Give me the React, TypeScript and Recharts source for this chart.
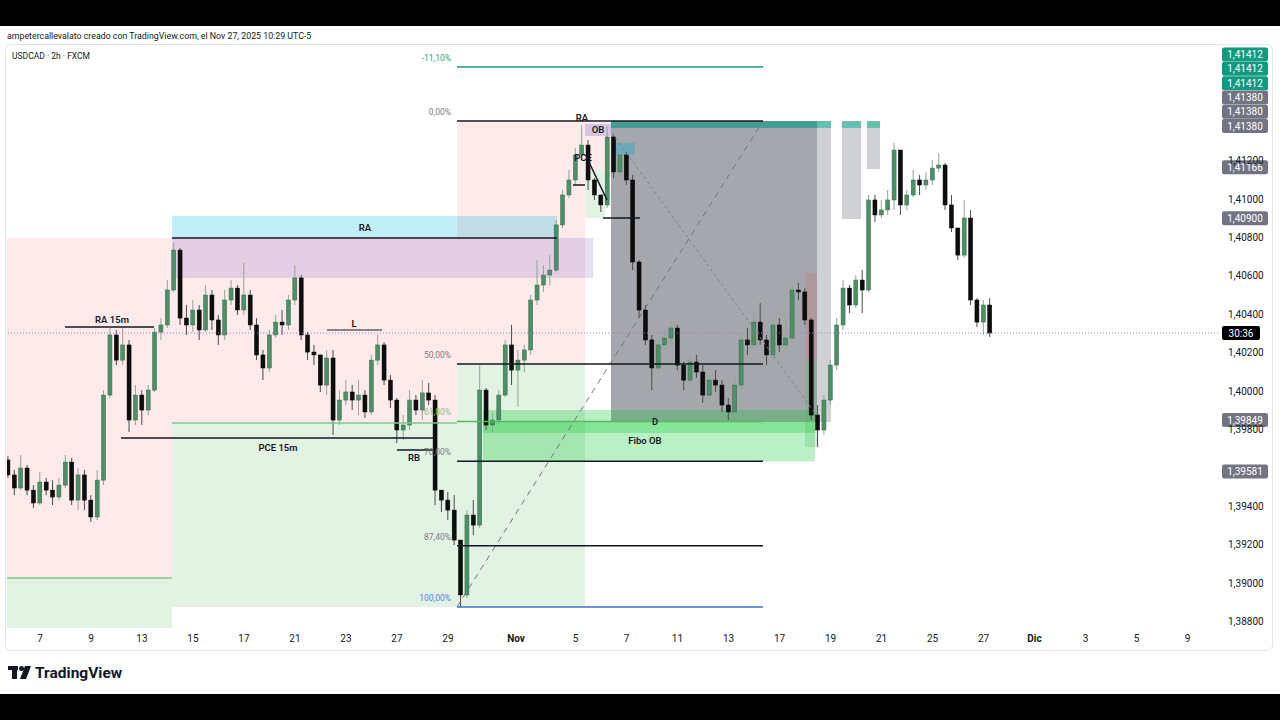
import React from 'react';
import {
  ComposedChart,
  Bar,
  XAxis,
  YAxis,
  ReferenceArea,
  ReferenceLine,
  ReferenceDot,
} from 'recharts';

const FONT = 'Roboto, "Liberation Sans", Arial, sans-serif';
const INK = '#131722';

// chart box (page coords: left 6, top 45)
const CHART_W = 1266;
const CHART_H = 605;
const AXIS_W = 54;
const AXIS_H = 22;
const X_DOMAIN: [number, number] = [-1.294, 46.196]; // trading days from Oct 7
const Y_DOMAIN: [number, number] = [1.38766, 1.41802];

// USDCAD 2h, resampled to 4 bars per trading day
const firstBarDay = -1.25;
const barStep = 0.25;
const firstOpen = 1.39641;

const closes = [
  1.39563, 1.39495, 1.39599, 1.39484, 1.39417, 1.39526, 1.39484, 1.39448, 1.3951, 1.3963,
  1.39432, 1.39563, 1.39432, 1.39344, 1.39536, 1.39979, 1.40292, 1.40161, 1.4024, 1.39849,
  1.39979, 1.39901, 1.40005, 1.40307, 1.40344, 1.40526, 1.40734, 1.4038, 1.40344, 1.40422,
  1.40318, 1.405, 1.4037, 1.40292, 1.40474, 1.40536, 1.40422, 1.405, 1.40344, 1.40188,
  1.4012, 1.40292, 1.40359, 1.40344, 1.40474, 1.40589, 1.40292, 1.40203, 1.40188, 1.40031,
  1.40172, 1.39849, 1.39953, 1.39995, 1.39953, 1.39979, 1.39891, 1.40161, 1.4024, 1.40057,
  1.39953, 1.39797, 1.39823, 1.39953, 1.39901, 1.3999, 1.39953, 1.39484, 1.39432, 1.3938,
  1.39224, 1.38938, 1.39354, 1.39302, 1.40005, 1.39823, 1.39849, 1.39979, 1.4024, 1.40109,
  1.40161, 1.40214, 1.40474, 1.40552, 1.40604, 1.4063, 1.40865, 1.41021, 1.41099, 1.41229,
  1.41281, 1.41099, 1.41021, 1.40969, 1.41323, 1.41141, 1.41229, 1.41099, 1.40672, 1.40422,
  1.40266, 1.4012, 1.4024, 1.40276, 1.40328, 1.40135, 1.40057, 1.40151, 1.40099, 1.39979,
  1.40057, 1.40031, 1.39927, 1.39891, 1.40031, 1.40266, 1.4024, 1.40359, 1.40266, 1.40188,
  1.40344, 1.4024, 1.40276, 1.40526, 1.40516, 1.4037, 1.39875, 1.39797, 1.39953, 1.40135,
  1.40344, 1.40536, 1.40448, 1.40578, 1.40526, 1.40995, 1.40917, 1.40943, 1.40995, 1.41255,
  1.40969, 1.41021, 1.41099, 1.41073, 1.41099, 1.41161, 1.41177, 1.40969, 1.40849, 1.40708,
  1.40901, 1.40474, 1.40359, 1.40448, 1.40302,
];

const highs = [
  1.39661, 1.39589, 1.39667, 1.39615, 1.3951, 1.39578, 1.39547, 1.39536, 1.39547, 1.39667,
  1.39651, 1.39599, 1.39589, 1.39458, 1.39589, 1.40005, 1.40328, 1.40318, 1.40328, 1.40266,
  1.40031, 1.40005, 1.40031, 1.40328, 1.4038, 1.40578, 1.40771, 1.40745, 1.40448, 1.40474,
  1.40448, 1.40552, 1.40526, 1.40396, 1.40526, 1.40578, 1.40552, 1.40667, 1.40526, 1.4038,
  1.40214, 1.40318, 1.40396, 1.40422, 1.405, 1.40656, 1.40604, 1.40307, 1.4024, 1.40188,
  1.40214, 1.40214, 1.40005, 1.40057, 1.40031, 1.40057, 1.40005, 1.40188, 1.40292, 1.40255,
  1.40083, 1.39964, 1.39875, 1.40005, 1.39979, 1.40057, 1.40042, 1.39979, 1.39484, 1.39474,
  1.39458, 1.39224, 1.3938, 1.39432, 1.40135, 1.40016, 1.39891, 1.40005, 1.40266, 1.40344,
  1.40214, 1.4024, 1.405, 1.40682, 1.40656, 1.40708, 1.40891, 1.41047, 1.41151, 1.41266,
  1.41385, 1.41307, 1.41109, 1.41021, 1.41375, 1.41333, 1.41255, 1.41245, 1.41125, 1.40682,
  1.40448, 1.40292, 1.40266, 1.40318, 1.4037, 1.40344, 1.40151, 1.40188, 1.40188, 1.40135,
  1.40083, 1.40109, 1.40057, 1.39964, 1.40068, 1.40292, 1.40328, 1.40396, 1.40458, 1.40292,
  1.4037, 1.4038, 1.40396, 1.40552, 1.40563, 1.40536, 1.4038, 1.39927, 1.39979, 1.40161,
  1.4038, 1.40578, 1.40552, 1.40604, 1.4063, 1.41021, 1.41021, 1.40995, 1.41047, 1.41292,
  1.41255, 1.41047, 1.41151, 1.41125, 1.41141, 1.41203, 1.4124, 1.41188, 1.41021, 1.40849,
  1.40995, 1.40943, 1.40484, 1.40474, 1.40484,
];

const lows = [
  1.39547, 1.39458, 1.39484, 1.39458, 1.39391, 1.39406, 1.39458, 1.39406, 1.39432, 1.39495,
  1.39406, 1.3938, 1.3938, 1.39318, 1.39328, 1.3951, 1.39964, 1.40135, 1.40135, 1.39786,
  1.39823, 1.39823, 1.39875, 1.39995, 1.40266, 1.40328, 1.40516, 1.40344, 1.40292, 1.40307,
  1.40266, 1.40307, 1.40318, 1.4024, 1.40266, 1.40448, 1.40396, 1.40396, 1.40318, 1.40161,
  1.40057, 1.40099, 1.40276, 1.40292, 1.40318, 1.40448, 1.40266, 1.40161, 1.40135, 1.39995,
  1.39979, 1.39771, 1.39823, 1.39927, 1.39901, 1.39875, 1.39859, 1.39875, 1.40135, 1.40031,
  1.39911, 1.39729, 1.39745, 1.39797, 1.39875, 1.39849, 1.39927, 1.39406, 1.3937, 1.39328,
  1.39198, 1.38875, 1.38922, 1.3925, 1.39286, 1.39797, 1.39786, 1.39823, 1.39969, 1.40031,
  1.39917, 1.40099, 1.40188, 1.40448, 1.40516, 1.40552, 1.4062, 1.40849, 1.41005, 1.41073,
  1.41203, 1.41047, 1.40995, 1.40932, 1.40953, 1.41109, 1.41109, 1.41073, 1.4063, 1.4038,
  1.4024, 1.40005, 1.40099, 1.40214, 1.4024, 1.40109, 1.40005, 1.40031, 1.40068, 1.39938,
  1.39953, 1.39995, 1.39891, 1.39849, 1.39859, 1.40005, 1.40188, 1.40214, 1.4024, 1.40135,
  1.40161, 1.40203, 1.40214, 1.40255, 1.40474, 1.40344, 1.39849, 1.39708, 1.39771, 1.39927,
  1.40109, 1.40318, 1.40406, 1.40432, 1.40406, 1.40516, 1.4088, 1.40901, 1.40917, 1.40943,
  1.40917, 1.40943, 1.4101, 1.41021, 1.41047, 1.41073, 1.41141, 1.40943, 1.40828, 1.40682,
  1.40693, 1.40448, 1.40333, 1.40292, 1.40281,
];

const dayTicks = [0, 2, 4, 6, 8, 10, 12, 14, 16, 18.67, 21, 23, 25, 27, 29, 31, 33, 35, 37, 39, 41, 43, 45];
const dayLabels = ['7', '9', '13', '15', '17', '21', '23', '27', '29', 'Nov', '5', '7', '11', '13', '17', '19', '21', '25', '27', 'Dic', '3', '5', '9'];
const priceTicks = [1.388, 1.39, 1.392, 1.394, 1.398, 1.4, 1.402, 1.404, 1.406, 1.408, 1.41, 1.412];

// fib retracement
const fibHigh = 1.41406;
const fibLow = 1.38875;
const fibStart = 16.353;
const fibEnd = 28.353;
const fibLevels = [-0.111, 0, 0.5, 0.618, 0.7, 0.874, 1];
const fibTexts = ['-11,10%', '0,00%', '50,00%', '61,80%', '70,00%', '87,40%', '100,00%'];
const fibLineColors = ['#1f9a82', '#131722', '#131722', '#5cb85f', '#131722', '#131722', '#3d6fd1'];
const fibTextColors = ['#2a9d8b', '#787b86', '#787b86', '#8cc48e', '#787b86', '#787b86', '#4f86e8'];

// price scale tags
const tagPrices = [1.41412, 1.41412, 1.41412, 1.4138, 1.4138, 1.4138, 1.41166, 1.409, 1.39849, 1.39581];
const tagColors = ['#119a7e', '#119a7e', '#119a7e', '#727581', '#727581', '#727581', '#727581', '#727581', '#727581', '#727581'];
const lastPrice = 1.40302;
const countdown = '30:36';

// drawings: [t1, t2, price1, price2, fill]
const PINK = 'rgba(242,54,69,0.11)';
const GREEN = 'rgba(76,175,80,0.16)';
const zones: [number, number, number, number, string][] = [
  [-1.294, 5.176, 1.40797, 1.39026, PINK],
  [-1.294, 5.176, 1.39026, 1.38766, GREEN],
  [5.176, 16.353, 1.40797, 1.39833, PINK],
  [5.176, 16.353, 1.39833, 1.38875, GREEN],
  [16.353, 21.373, 1.41406, 1.40141, PINK],
  [16.353, 21.373, 1.40141, 1.38875, GREEN],
  [5.176, 20.275, 1.40911, 1.40797, 'rgba(0,188,212,0.24)'],
  [5.176, 21.686, 1.40797, 1.40589, 'rgba(149,117,205,0.24)'],
  [21.373, 22.392, 1.41406, 1.41151, PINK],
  [21.373, 22.157, 1.41151, 1.40901, GREEN],
  [22.392, 30.471, 1.41406, 1.39839, 'rgba(78,80,90,0.5)'],
  [30.471, 31.02, 1.4137, 1.39839, 'rgba(110,112,122,0.32)'],
  [31.451, 32.196, 1.4137, 1.40896, 'rgba(110,112,122,0.32)'],
  [32.431, 32.941, 1.4137, 1.41156, 'rgba(110,112,122,0.32)'],
  [22.392, 31.02, 1.41406, 1.4137, 'rgba(8,153,129,0.62)'],
  [31.451, 32.196, 1.41406, 1.4137, 'rgba(8,153,129,0.62)'],
  [32.431, 32.941, 1.41406, 1.4137, 'rgba(8,153,129,0.62)'],
  [22.431, 23.333, 1.41292, 1.41229, 'rgba(0,175,215,0.35)'],
  [21.373, 22.392, 1.41391, 1.41328, 'rgba(170,150,215,0.45)'],
  [30.0, 30.471, 1.40615, 1.40161, 'rgba(242,54,69,0.14)'],
  [30.0, 30.471, 1.40161, 1.39708, 'rgba(76,175,80,0.22)'],
  [17.373, 30.392, 1.39901, 1.39781, 'rgba(0,200,40,0.27)'],
  [17.373, 30.392, 1.39839, 1.39635, 'rgba(0,200,40,0.27)'],
];

// horizontal lines: [t1, t2, price, color]
const levels: [number, number, number, string][] = [
  [0.98, 4.471, 1.40333, INK],
  [3.176, 15.49, 1.39755, INK],
  [11.255, 13.412, 1.40318, '#5d606b'],
  [14.0, 15.49, 1.39693, INK],
  [5.176, 20.275, 1.40797, INK],
  [20.902, 21.373, 1.41073, INK],
  [22.078, 23.529, 1.40901, INK],
  [-1.294, 5.176, 1.39026, '#7cc98a'],
  [5.176, 16.353, 1.39833, '#7cc98a'],
];

// text notes: [t, price, text]
const notes: [number, number, string][] = [
  [2.824, 1.40375, 'RA 15m'],
  [9.333, 1.39708, 'PCE 15m'],
  [12.314, 1.40354, 'L'],
  [14.667, 1.39656, 'RB'],
  [12.745, 1.40852, 'RA'],
  [21.255, 1.41427, 'RA'],
  [21.882, 1.41362, 'OB'],
  [21.294, 1.41214, 'PCE'],
  [24.118, 1.39839, 'D'],
  [23.725, 1.3974, 'Fibo OB'],
];

const candles = closes.map((close, i) => ({
  t: firstBarDay + i * barStep,
  open: i === 0 ? firstOpen : closes[i - 1],
  close,
  high: highs[i],
  low: lows[i],
  range: [lows[i], highs[i]],
}));

// push overlapping tags upward like the price scale does
const PLOT_H = CHART_H - AXIS_H;
const pxPerPrice = PLOT_H / (Y_DOMAIN[1] - Y_DOMAIN[0]);
const TAG_H = 14.3;
const tagShifts = (() => {
  const order = tagPrices.map((_, i) => i).sort((a, b) => tagPrices[a] - tagPrices[b] || b - a);
  const shifts = tagPrices.map(() => 0);
  let prevY = Infinity;
  for (const i of order) {
    const own = (Y_DOMAIN[1] - tagPrices[i]) * pxPerPrice;
    const y = Math.min(own, prevY - TAG_H);
    shifts[i] = y - own;
    prevY = y;
  }
  return shifts;
})();

function Candle(props: any) {
  const { x, y, width, height, payload } = props;
  if (!payload) return null;
  const top = Math.min(y, y + height);
  const h = Math.abs(height);
  const span = payload.high - payload.low || 1e-9;
  const py = (p: number) => top + ((payload.high - p) / span) * h;
  const up = payload.close >= payload.open;
  const cx = x + width / 2;
  const b1 = py(Math.max(payload.open, payload.close));
  const b2 = py(Math.min(payload.open, payload.close));
  return (
    <g>
      <line x1={cx} x2={cx} y1={top} y2={top + h} stroke={up ? '#8fa597' : '#4a4a4a'} strokeWidth={1} />
      <rect
        x={x}
        y={b1}
        width={width}
        height={Math.max(1, b2 - b1)}
        fill={up ? '#4d9068' : '#0d0d0d'}
        stroke={up ? '#2f6b48' : '#000'}
        strokeWidth={0.5}
      />
    </g>
  );
}

const DayTick = (props: any) => {
  const { x, y, payload } = props;
  const idx = dayTicks.indexOf(payload.value);
  const label = idx >= 0 ? dayLabels[idx] : '';
  const month = label === 'Nov' || label === 'Dic';
  return (
    <text x={x} y={y} dy={14} textAnchor="middle" fontSize={10} fontWeight={month ? 700 : 400} fill={INK} fontFamily={FONT}>
      {label}
    </text>
  );
};

const PriceTick = (props: any) => {
  const { x, y, payload } = props;
  return (
    <text x={x + 10} y={y} dy={3.5} textAnchor="start" fontSize={10} fill={INK} fontFamily={FONT}>
      {payload.value.toFixed(5).replace('.', ',')}
    </text>
  );
};

const noteLabel = (text: string) => (p: any) => {
  const vb = p.viewBox || {};
  const cx = vb.x + (vb.width || 0) / 2;
  const cy = vb.y + (vb.height || 0) / 2;
  return (
    <text x={cx} y={cy} dy={3.5} textAnchor="middle" fontSize={9.5} fontWeight={600} fill={INK} fontFamily={FONT}>
      {text}
    </text>
  );
};

const fibLabel = (text: string, color: string) => (p: any) => {
  const vb = p.viewBox || {};
  return (
    <text x={vb.x - 6} y={vb.y - 6} textAnchor="end" fontSize={8.5} fill={color} fontFamily={FONT}>
      {text}
    </text>
  );
};

const tagLabel = (text: string, bg: string, shift: number, w = 46) => (p: any) => {
  const vb = p.viewBox || {};
  const left = vb.x + (vb.width || 0) + 4;
  const cy = vb.y + shift;
  return (
    <g>
      <rect x={left} y={cy - 7} width={w} height={14} rx={2} fill={bg} />
      <text x={left + w / 2} y={cy} dy={3.5} textAnchor="middle" fontSize={10} fill="#fff" fontFamily={FONT}>
        {text}
      </text>
    </g>
  );
};

export default function App() {
  return (
    <div style={{ position: 'absolute', left: 0, top: 0, width: 1280, height: 720, background: '#fff', fontFamily: FONT, overflow: 'hidden' }}>
      <div style={{ position: 'absolute', left: 0, top: 0, width: 1280, height: 26, background: '#000' }} />
      <div style={{ position: 'absolute', left: 0, top: 694, width: 1280, height: 26, background: '#000' }} />
      <div style={{ position: 'absolute', left: 7, top: 31, fontSize: 8.8, color: INK, whiteSpace: 'nowrap' }}>
        ampetercallevalato creado con TradingView.com, el Nov 27, 2025 10:29 UTC-5
      </div>
      <div style={{ position: 'absolute', left: 5, top: 44, width: 1266, height: 605, border: '1px solid #e3e5ea', borderRadius: 6 }} />

      <div style={{ position: 'absolute', left: 6, top: 45 }}>
        <ComposedChart width={CHART_W} height={CHART_H} data={candles} margin={{ top: 0, right: 0, left: 1, bottom: 0 }}>
          <XAxis
            dataKey="t"
            type="number"
            domain={X_DOMAIN}
            allowDataOverflow
            ticks={dayTicks}
            interval={0}
            tick={<DayTick />}
            tickLine={false}
            tickSize={0}
            tickMargin={0}
            axisLine={false}
            height={AXIS_H}
          />
          <YAxis
            type="number"
            orientation="right"
            domain={Y_DOMAIN}
            allowDataOverflow
            ticks={priceTicks}
            interval={0}
            tick={<PriceTick />}
            tickLine={false}
            tickSize={0}
            tickMargin={0}
            axisLine={false}
            width={AXIS_W}
          />

          {zones.map(([t1, t2, p1, p2, fill], i) => (
            <ReferenceArea
              key={'z' + i}
              x1={t1}
              x2={t2}
              y1={p1}
              y2={p2}
              fill={fill}
              fillOpacity={1}
              stroke="none"
              ifOverflow="visible"
            />
          ))}

          <ReferenceLine
            segment={[{ x: fibStart, y: fibLow }, { x: fibEnd, y: fibHigh }]}
            stroke="#6f727c"
            strokeDasharray="6 5"
            strokeWidth={1}
            ifOverflow="visible"
          />
          <ReferenceLine
            segment={[{ x: 22.431, y: 1.41344 }, { x: 30.392, y: 1.39885 }]}
            stroke="#7d8088"
            strokeDasharray="3 3"
            strokeWidth={1}
            ifOverflow="visible"
          />

          <Bar dataKey="range" barSize={4} shape={<Candle />} isAnimationActive={false} />

          <ReferenceLine y={lastPrice} stroke="#9b7fd0" strokeDasharray="1 2" strokeWidth={1} ifOverflow="visible"
            label={tagLabel(countdown, '#000', 0, 38)} />

          {levels.map(([t1, t2, p, color], i) => (
            <ReferenceLine
              key={'l' + i}
              segment={[{ x: t1, y: p }, { x: t2, y: p }]}
              stroke={color}
              strokeWidth={1.5}
              ifOverflow="visible"
            />
          ))}
          <ReferenceLine
            segment={[{ x: 21.49, y: 1.41203 }, { x: 22.235, y: 1.40995 }]}
            stroke={INK}
            strokeWidth={1.5}
            ifOverflow="visible"
          />

          {fibLevels.map((lv, i) => {
            const p = fibHigh - lv * (fibHigh - fibLow);
            return (
              <ReferenceLine
                key={'f' + i}
                segment={[{ x: fibStart, y: p }, { x: fibEnd, y: p }]}
                stroke={fibLineColors[i]}
                strokeWidth={1.5}
                ifOverflow="visible"
                label={fibLabel(fibTexts[i], fibTextColors[i])}
              />
            );
          })}

          {notes.map(([t, p, text], i) => (
            <ReferenceDot key={'n' + i} x={t} y={p} r={1} fill="none" stroke="none" ifOverflow="visible" label={noteLabel(text)} />
          ))}

          {tagPrices.map((p, i) => (
            <ReferenceLine
              key={'tag' + i}
              y={p}
              stroke="none"
              strokeOpacity={0}
              ifOverflow="visible"
              label={tagLabel(p.toFixed(5).replace('.', ','), tagColors[i], tagShifts[i])}
            />
          ))}
        </ComposedChart>
      </div>

      <div style={{ position: 'absolute', left: 12, top: 51, fontSize: 8.5, color: INK, whiteSpace: 'nowrap' }}>
        USDCAD · 2h · FXCM
      </div>

      <svg style={{ position: 'absolute', left: 0, top: 660 }} width={140} height={26}>
        <rect x={8} y={6} width={10} height={4} fill={INK} />
        <rect x={12} y={6} width={5} height={13} fill={INK} />
        <circle cx={21.5} cy={8.5} r={2.5} fill={INK} />
        <polygon points="25,6 31,6 26,19 20,19" fill={INK} />
        <text x={35} y={18} fontSize={15.5} fontWeight={700} fill={INK} fontFamily={FONT}>
          TradingView
        </text>
      </svg>
    </div>
  );
}
